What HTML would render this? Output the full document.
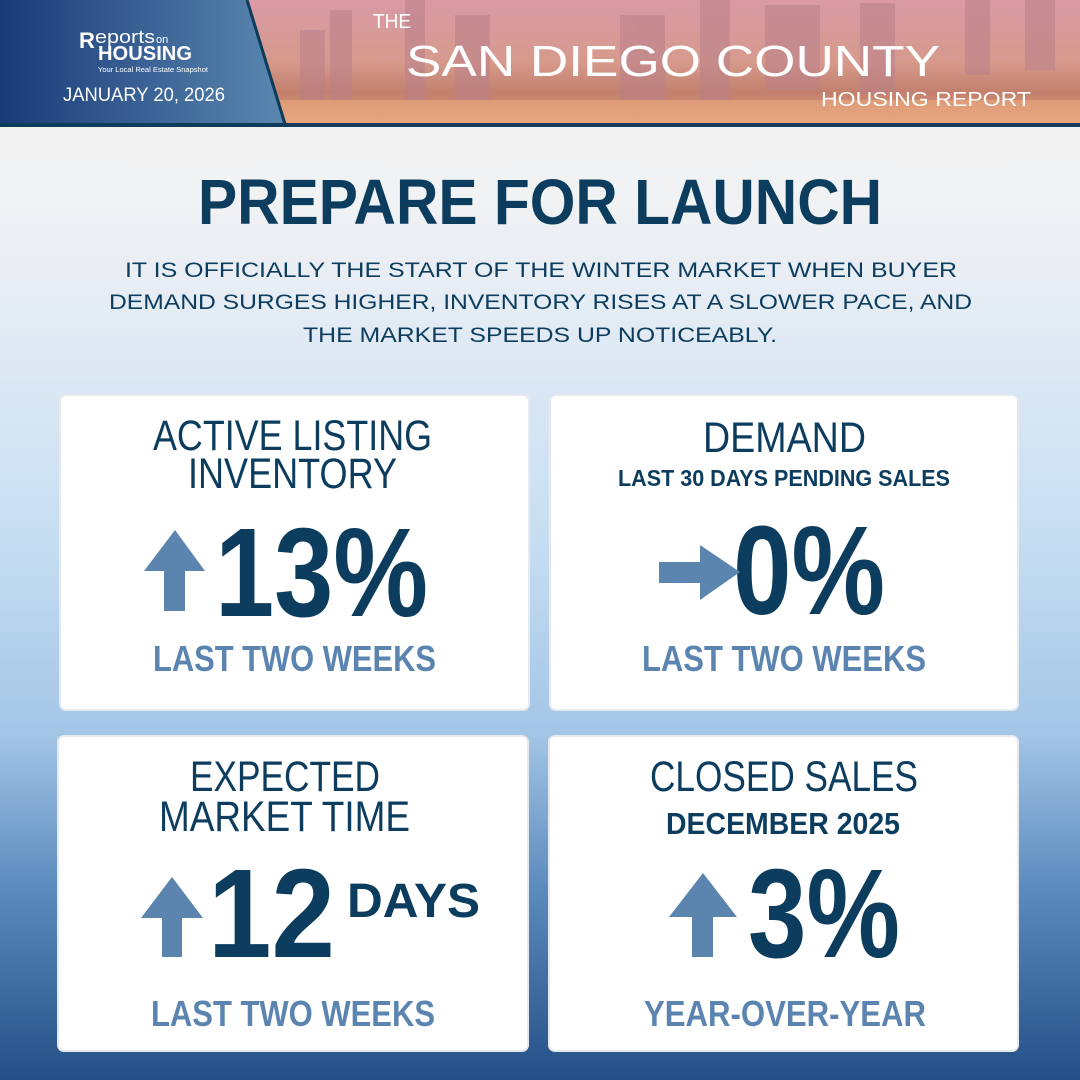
<!DOCTYPE html>
<html><head><meta charset="utf-8"><style>
html,body{margin:0;padding:0;width:1080px;height:1080px;overflow:hidden}
</style></head><body>
<svg width="1080" height="1080" viewBox="0 0 1080 1080" xmlns="http://www.w3.org/2000/svg" font-family="Liberation Sans, sans-serif">
<defs>
<linearGradient id="bg" x1="0" y1="0" x2="0" y2="1">
<stop offset="0" stop-color="#f3f3f3"/>
<stop offset="0.18" stop-color="#f1f2f3"/>
<stop offset="0.32" stop-color="#e0eaf4"/>
<stop offset="0.5" stop-color="#c6def2"/>
<stop offset="0.68" stop-color="#a3c5e6"/>
<stop offset="0.82" stop-color="#5d8cbe"/>
<stop offset="1" stop-color="#234f86"/>
</linearGradient>
<linearGradient id="lp" x1="0" y1="0" x2="1" y2="0">
<stop offset="0" stop-color="#1a3a78"/>
<stop offset="1" stop-color="#5a88b0"/>
</linearGradient>
<linearGradient id="img" x1="0" y1="0" x2="0" y2="1">
<stop offset="0" stop-color="#d99aa6"/>
<stop offset="0.5" stop-color="#d69a8c"/>
<stop offset="0.75" stop-color="#c27f6c"/>
<stop offset="1" stop-color="#e8a47e"/>
</linearGradient>
</defs>
<rect width="1080" height="1080" fill="url(#bg)"/>
<!-- header -->
<rect x="0" y="0" width="1080" height="124" fill="url(#img)"/>
<g fill="#b9808a" opacity="0.55">
<rect x="300" y="30" width="25" height="70"/><rect x="330" y="10" width="22" height="90"/>
<rect x="405" y="0" width="20" height="100"/><rect x="455" y="15" width="35" height="85"/>
<rect x="620" y="15" width="45" height="85"/><rect x="700" y="0" width="30" height="100"/>
<rect x="765" y="5" width="55" height="85"/><rect x="860" y="3" width="35" height="90"/>
<rect x="965" y="0" width="25" height="75"/><rect x="1025" y="0" width="30" height="70"/>
</g>
<rect x="280" y="100" width="800" height="24" fill="#e9a87e" opacity="0.6"/>
<polygon points="0,0 247,0 285,124 0,124" fill="url(#lp)"/>
<line x1="247" y1="0" x2="285" y2="124" stroke="#0d3b5a" stroke-width="3"/>
<rect x="0" y="123" width="1080" height="4" fill="#0e3d5c"/>
<text x="79" y="48" fill="#fff" font-size="22" font-weight="bold">R</text>
<text x="95" y="43" fill="#fff" font-size="18" textLength="60" lengthAdjust="spacingAndGlyphs">eports</text>
<text x="156" y="43" fill="#fff" font-size="11">on</text>
<text x="98" y="60" fill="#fff" font-size="20" font-weight="bold" textLength="94" lengthAdjust="spacingAndGlyphs">HOUSING</text>
<text x="98" y="72" fill="#fff" font-size="7" textLength="110" lengthAdjust="spacingAndGlyphs">Your Local Real Estate Snapshot</text>
<text x="63" y="101" fill="#fff" font-size="19" textLength="162" lengthAdjust="spacingAndGlyphs">JANUARY 20, 2026</text>
<text x="373" y="28" fill="#fff" font-size="20" textLength="38" lengthAdjust="spacingAndGlyphs">THE</text>
<text x="406" y="76" fill="#fff" font-size="44" textLength="534" lengthAdjust="spacingAndGlyphs">SAN DIEGO COUNTY</text>
<text x="821" y="106" fill="#fff" font-size="20" textLength="210" lengthAdjust="spacingAndGlyphs">HOUSING REPORT</text>
<!-- headline -->
<text x="198" y="224" fill="#0c3d5e" font-size="64" font-weight="bold" textLength="684" lengthAdjust="spacingAndGlyphs">PREPARE FOR LAUNCH</text>
<g fill="#0c3d5e" font-size="21">
<text x="125" y="277" textLength="832" lengthAdjust="spacingAndGlyphs">IT IS OFFICIALLY THE START OF THE WINTER MARKET WHEN BUYER</text>
<text x="109" y="309" textLength="863" lengthAdjust="spacingAndGlyphs">DEMAND SURGES HIGHER, INVENTORY RISES AT A SLOWER PACE, AND</text>
<text x="303" y="342" textLength="474" lengthAdjust="spacingAndGlyphs">THE MARKET SPEEDS UP NOTICEABLY.</text>
</g>
<!-- cards -->
<g fill="#fff" stroke="#e6eaee" stroke-width="2">
<rect x="60" y="395" width="469" height="315" rx="6"/>
<rect x="550" y="395" width="468" height="315" rx="6"/>
<rect x="58" y="736" width="470" height="315" rx="6"/>
<rect x="549" y="736" width="469" height="315" rx="6"/>
</g>
<g fill="#0c3d5e" font-size="43">
<text x="153" y="450" textLength="279" lengthAdjust="spacingAndGlyphs">ACTIVE LISTING</text>
<text x="188" y="488" textLength="209" lengthAdjust="spacingAndGlyphs">INVENTORY</text>
<text x="703" y="452" textLength="163" lengthAdjust="spacingAndGlyphs">DEMAND</text>
<text x="190" y="791" textLength="190" lengthAdjust="spacingAndGlyphs">EXPECTED</text>
<text x="159" y="831" textLength="251" lengthAdjust="spacingAndGlyphs">MARKET TIME</text>
<text x="650" y="791" textLength="268" lengthAdjust="spacingAndGlyphs">CLOSED SALES</text>
</g>
<g fill="#0c3d5e" font-weight="bold">
<text x="618" y="486" font-size="23" textLength="332" lengthAdjust="spacingAndGlyphs">LAST 30 DAYS PENDING SALES</text>
<text x="666" y="834" font-size="31" textLength="234" lengthAdjust="spacingAndGlyphs">DECEMBER 2025</text>
<text x="215" y="616" font-size="126" textLength="213" lengthAdjust="spacingAndGlyphs">13%</text>
<text x="733" y="614" font-size="126" textLength="152" lengthAdjust="spacingAndGlyphs">0%</text>
<text x="208" y="957" font-size="126" textLength="127" lengthAdjust="spacingAndGlyphs">12</text>
<text x="347" y="917" font-size="48" textLength="133" lengthAdjust="spacingAndGlyphs">DAYS</text>
<text x="748" y="957" font-size="126" textLength="152" lengthAdjust="spacingAndGlyphs">3%</text>
</g>
<g fill="#5b85b0" font-weight="bold" font-size="36">
<text x="153" y="671" textLength="283" lengthAdjust="spacingAndGlyphs">LAST TWO WEEKS</text>
<text x="642" y="671" textLength="284" lengthAdjust="spacingAndGlyphs">LAST TWO WEEKS</text>
<text x="151" y="1026" textLength="284" lengthAdjust="spacingAndGlyphs">LAST TWO WEEKS</text>
<text x="644" y="1026" textLength="282" lengthAdjust="spacingAndGlyphs">YEAR-OVER-YEAR</text>
</g>
<!-- arrows -->
<g fill="#5b85ae">
<polygon points="175,530 205,571 185,571 185,611 164,611 164,571 144,571"/>
<polygon points="740,572 700,545 700,562 659,562 659,583 700,583 700,600"/>
<polygon points="172,877 203,918 182,918 182,957 162,957 162,918 141,918"/>
<polygon points="703,873 737,917 713,917 713,957 692,957 692,917 669,917"/>
</g>
</svg>
</body></html>
